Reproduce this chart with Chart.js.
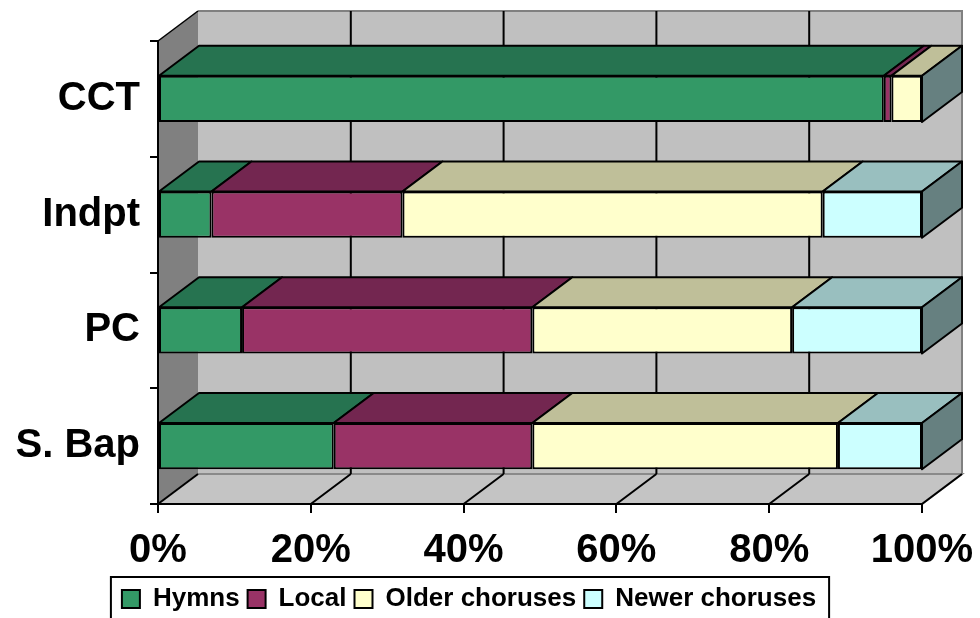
<!DOCTYPE html>
<html>
<head>
<meta charset="utf-8">
<script src="https://cdn.jsdelivr.net/npm/chart.js@4.4.1/dist/chart.umd.min.js"></script>
<style>
  html, body { margin: 0; padding: 0; background: #ffffff; }
  #wrap { width: 980px; height: 618px; }
</style>
</head>
<body>
<div id="wrap"><canvas id="musicChart" width="980" height="618"></canvas></div>
<script>
const categories = ['CCT', 'Indpt', 'PC', 'S. Bap'];
const seriesNames = ['Hymns', 'Local', 'Older choruses', 'Newer choruses'];
const hymns = [95, 7, 11, 23];
const local = [1, 25, 38, 26];
const olderChoruses = [4, 55, 34, 40];
const newerChoruses = [0, 13, 17, 11];
const xTicks = [0, 20, 40, 60, 80, 100];

// front / top / side face colours per series
const frontColors = ['#339966', '#993366', '#ffffcc', '#ccffff'];
const topColors = ['#267350', '#732650', '#bfbf99', '#99bfbf'];
const sideColors = ['#1a4d33', '#4d1a33', '#80806a', '#668080'];

const DX = 40, DY = -30; // 3d depth offset
const FONT = "'Liberation Sans', Arial, sans-serif";

const box3d = {
    id: 'box3d',
    beforeDraw(chart) {
        const c = chart.ctx, a = chart.chartArea, xs = chart.scales.x;
        c.save();
        // back wall
        c.fillStyle = '#c0c0c0';
        c.fillRect(a.left + DX, a.top + DY, a.right - a.left, a.bottom - a.top);
        c.strokeStyle = '#808080';
        c.lineWidth = 2;
        c.beginPath();
        c.moveTo(a.left + DX, a.top + DY);
        c.lineTo(a.right + DX, a.top + DY);
        c.lineTo(a.right + DX, a.bottom + DY);
        c.stroke();
        // floor
        c.fillStyle = '#c4c4c4';
        c.beginPath();
        c.moveTo(a.left, a.bottom);
        c.lineTo(a.left + DX, a.bottom + DY);
        c.lineTo(a.right + DX, a.bottom + DY);
        c.lineTo(a.right, a.bottom);
        c.closePath();
        c.fill();
        c.strokeStyle = '#8a8a8a';
        c.beginPath();
        c.moveTo(a.left + DX, a.bottom + DY);
        c.lineTo(a.right + DX, a.bottom + DY);
        c.lineTo(a.right, a.bottom);
        c.stroke();
        // left wall
        c.fillStyle = '#808080';
        c.beginPath();
        c.moveTo(a.left, a.top);
        c.lineTo(a.left + DX, a.top + DY);
        c.lineTo(a.left + DX, a.bottom + DY);
        c.lineTo(a.left, a.bottom);
        c.closePath();
        c.fill();
        c.strokeStyle = '#000000';
        c.lineWidth = 1.5;
        c.beginPath();
        c.moveTo(a.left, a.top);
        c.lineTo(a.left + DX, a.top + DY);
        c.stroke();
        // grid lines on back wall and floor
        c.strokeStyle = '#000000';
        c.lineWidth = 2;
        xTicks.forEach(function (v) {
            const px = xs.getPixelForValue(v);
            c.beginPath();
            if (v > 0 && v < 100) {
                c.moveTo(px + DX, a.top + DY);
                c.lineTo(px + DX, a.bottom + DY);
            }
            c.moveTo(px + DX, a.bottom + DY);
            c.lineTo(px, a.bottom);
            c.stroke();
        });
        c.restore();
    },
    afterDatasetsDraw(chart) {
        const c = chart.ctx;
        const n = chart.data.datasets.length;
        c.save();
        c.strokeStyle = '#000000';
        c.lineWidth = 2;
        c.lineJoin = 'round';
        for (let i = 0; i < n; i++) {
            const meta = chart.getDatasetMeta(i);
            meta.data.forEach(function (el) {
                const y0 = el.y - el.height / 2;
                const y1 = el.y + el.height / 2;
                if (Math.abs(el.x - el.base) > 0.5) {
                    c.fillStyle = topColors[i];
                    c.beginPath();
                    c.moveTo(el.base, y0);
                    c.lineTo(el.base + DX, y0 + DY);
                    c.lineTo(el.x + DX, y0 + DY);
                    c.lineTo(el.x, y0);
                    c.closePath();
                    c.fill();
                    c.stroke();
                }
                if (i === n - 1) {
                    c.fillStyle = sideColors[i];
                    c.beginPath();
                    c.moveTo(el.x, y0);
                    c.lineTo(el.x + DX, y0 + DY);
                    c.lineTo(el.x + DX, y1 + DY);
                    c.lineTo(el.x, y1);
                    c.closePath();
                    c.fill();
                    c.stroke();
                }
            });
        }
        c.restore();
    },
    afterDraw(chart) {
        const boxes = chart.legend.legendHitBoxes;
        if (!boxes || !boxes.length) return;
        const first = boxes[0], last = boxes[boxes.length - 1];
        const c = chart.ctx;
        c.save();
        c.strokeStyle = '#000000';
        c.lineWidth = 2;
        c.strokeRect(first.left - 11, first.top - 9, last.left + last.width - first.left + 24, 60);
        c.restore();
    }
};

const seriesData = [hymns, local, olderChoruses, newerChoruses];

new Chart(document.getElementById('musicChart'), {
    type: 'bar',
    data: {
        labels: categories,
        datasets: seriesNames.map(function (name, i) {
            return {
                label: name,
                data: seriesData[i],
                backgroundColor: frontColors[i],
                borderColor: '#000000',
                borderWidth: 2,
                borderSkipped: false,
                barPercentage: 0.4,
                categoryPercentage: 1.0
            };
        })
    },
    options: {
        indexAxis: 'y',
        responsive: false,
        animation: false,
        layout: {
            padding: { left: 16, right: 58, top: 41, bottom: -4 }
        },
        scales: {
            x: {
                stacked: true,
                min: 0,
                max: 100,
                afterFit: function (scale) {
                    scale.height = 74;
                    scale.paddingLeft = 0;
                    scale.paddingRight = 0;
                },
                afterBuildTicks: function (scale) {
                    scale.ticks = xTicks.map(function (v) { return { value: v }; });
                },
                ticks: {
                    callback: function (v) { return v + '%'; },
                    color: '#000000',
                    padding: 14,
                    maxRotation: 0,
                    font: { family: FONT, size: 40, weight: 'bold' }
                },
                grid: {
                    drawOnChartArea: false,
                    tickLength: 9,
                    color: '#000000',
                    lineWidth: 2
                },
                border: { color: '#000000', width: 2 }
            },
            y: {
                stacked: true,
                afterFit: function (scale) { scale.width = 142; },
                ticks: {
                    color: '#000000',
                    padding: 10,
                    font: { family: FONT, size: 40, weight: 'bold' }
                },
                grid: {
                    drawOnChartArea: false,
                    tickLength: 8,
                    color: '#000000',
                    lineWidth: 2
                },
                border: { color: '#000000', width: 2 }
            }
        },
        plugins: {
            legend: {
                position: 'bottom',
                labels: {
                    color: '#000000',
                    boxWidth: 18,
                    boxHeight: 18,
                    padding: 8,
                    font: { family: FONT, size: 26, weight: 'bold' }
                }
            },
            tooltip: { enabled: false }
        }
    },
    plugins: [box3d]
});
</script>
</body>
</html>
